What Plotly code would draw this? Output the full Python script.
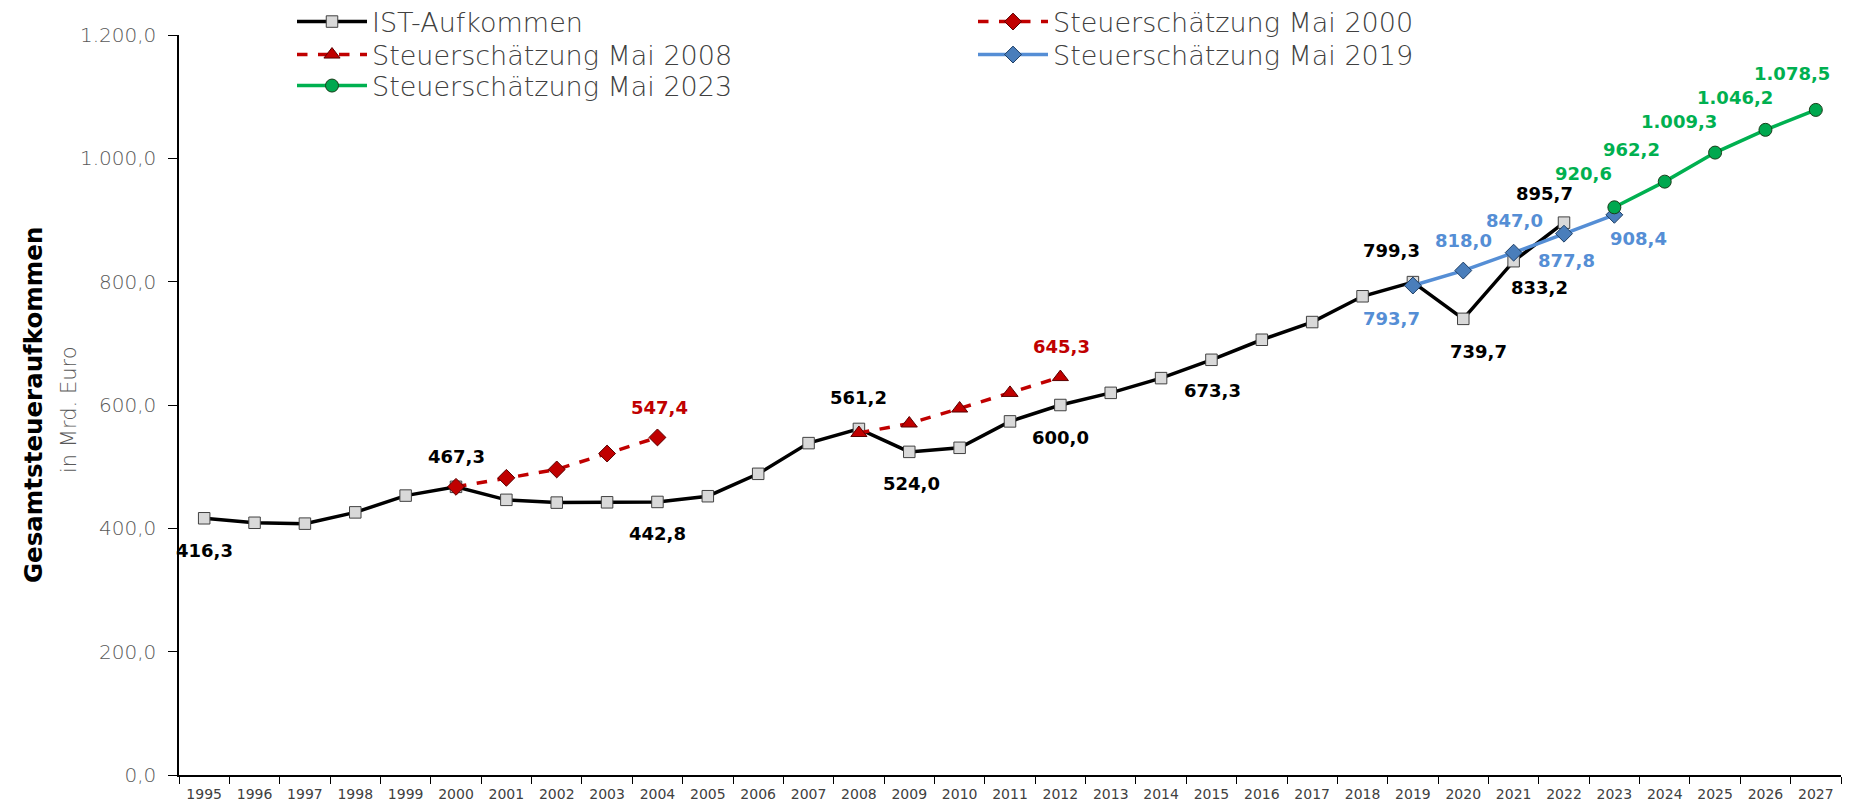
import plotly.graph_objects as go

# Kategorien (Jahre)
years = [str(y) for y in range(1995, 2028)]

# IST-Aufkommen 1995-2022
ist_years = [str(y) for y in range(1995, 2023)]
ist_values = [416.3, 409.0, 407.6, 425.9, 453.1, 467.3, 446.2, 441.7, 442.2, 442.8,
              452.1, 488.4, 538.2, 561.2, 524.0, 530.6, 573.4, 600.0, 619.7, 643.6,
              673.3, 705.8, 734.5, 776.3, 799.3, 739.7, 833.2, 895.7]

# Steuerschaetzungen
se2000_years = ["2000", "2001", "2002", "2003", "2004"]
se2000_values = [467.3, 481.9, 495.5, 521.3, 547.4]

se2008_years = ["2008", "2009", "2010", "2011", "2012"]
se2008_values = [554.6, 570.0, 594.3, 619.6, 645.3]

se2019_years = ["2019", "2020", "2021", "2022", "2023"]
se2019_values = [793.7, 818.0, 847.0, 877.8, 908.4]

se2023_years = ["2023", "2024", "2025", "2026", "2027"]
se2023_values = [920.6, 962.2, 1009.3, 1046.2, 1078.5]

FONT = "DejaVu Sans"
BLACK = "#000000"
RED = "#c00000"
BLUE = "#558ed5"
GREEN = "#00b050"
GREY = "#595959"

# Seite hat 8px Body-Rand -> Figur etwas kleiner, Pixelangaben in Bildschirmkoordinaten
OFF = 8
W, H = 1870 - OFF, 809 - OFF
ML, MR, MT, MB = 171, 29, 27, 34
pw, ph = W - ML - MR, H - MT - MB


def de(v):
    s = f"{v:,.1f}"
    return s.replace(",", "X").replace(".", ",").replace("X", ".")


def px_x(x):
    return (x - OFF - ML) / pw


def px_y(y):
    return (H - MB - (y - OFF)) / ph


fig = go.Figure()

fig.add_trace(go.Scatter(
    x=ist_years, y=ist_values, name="IST-Aufkommen", mode="lines+markers", legend="legend",
    line=dict(color=BLACK, width=3.5),
    marker=dict(symbol="square", size=11.5, color="#d9d9d9", line=dict(color="#404040", width=1))
))
fig.add_trace(go.Scatter(
    x=se2000_years, y=se2000_values, name="Steuerschätzung Mai 2000", mode="lines+markers", legend="legend2",
    line=dict(color=RED, width=3.5, dash="dash"),
    marker=dict(symbol="diamond", size=13, color=RED, line=dict(color="#5a0000", width=1))
))
fig.add_trace(go.Scatter(
    x=se2008_years, y=se2008_values, name="Steuerschätzung Mai 2008", mode="lines+markers", legend="legend3",
    line=dict(color=RED, width=3.5, dash="dash"),
    marker=dict(symbol="triangle-up", size=14, color=RED, line=dict(color="#5a0000", width=1))
))
fig.add_trace(go.Scatter(
    x=se2019_years, y=se2019_values, name="Steuerschätzung Mai 2019", mode="lines+markers", legend="legend4",
    line=dict(color=BLUE, width=3.5),
    marker=dict(symbol="diamond", size=13, color="#4a7ebb", line=dict(color="#1f3f66", width=1))
))
fig.add_trace(go.Scatter(
    x=se2023_years, y=se2023_values, name="Steuerschätzung Mai 2023", mode="lines+markers", legend="legend5",
    line=dict(color=GREEN, width=3.5),
    marker=dict(symbol="circle", size=13, color="#00a84f", line=dict(color="#1a3d1a", width=1))
))

# Datenbeschriftungen je Reihe: Jahr -> Versatz (x, y) in Pixel
ist_lookup = dict(zip(ist_years, ist_values))
label_offsets = [
    (ist_lookup, BLACK, {"1995": (0, -32), "2000": (0, 30), "2004": (0, -32), "2008": (0, 31),
                         "2009": (2, -32), "2012": (0, -32), "2015": (1, -31), "2019": (-21, 32),
                         "2020": (15, -33), "2021": (26, -26), "2022": (-20, 29)}),
    (dict(zip(se2000_years, se2000_values)), RED, {"2004": (2, 30)}),
    (dict(zip(se2008_years, se2008_values)), RED, {"2012": (1, 31)}),
    (dict(zip(se2019_years, se2019_values)), BLUE, {"2019": (-21, -33), "2020": (0, 30), "2021": (1, 32),
                                                     "2022": (2, -27), "2023": (24, -24)}),
    (dict(zip(se2023_years, se2023_values)), GREEN, {"2023": (-31, 34), "2024": (-33, 32), "2025": (-36, 31),
                                                      "2026": (-30, 32), "2027": (-24, 36)}),
]

annotations = []
for lookup, color, offs in label_offsets:
    for yr, (dx, dy) in offs.items():
        annotations.append(dict(
            x=years.index(yr), y=lookup[yr], xref="x", yref="y", text=de(lookup[yr]), showarrow=False,
            xshift=dx, yshift=dy, font=dict(family=FONT, size=18, color=color, weight="bold")
        ))

# Achsentitel
annotations.append(dict(
    x=px_x(33), y=px_y(405), xref="paper", yref="paper", xanchor="center", yanchor="middle",
    text="Gesamtsteueraufkommen", showarrow=False,
    textangle=-90, font=dict(family=FONT, size=24.5, color=BLACK, weight="bold")
))
annotations.append(dict(
    x=px_x(69), y=px_y(410), xref="paper", yref="paper", xanchor="center", yanchor="middle",
    text="in Mrd. Euro", showarrow=False,
    textangle=-90, font=dict(family=FONT, size=21, color=GREY, weight=200)
))

legend_style = dict(
    xanchor="left", yanchor="middle", itemwidth=70, bgcolor="rgba(0,0,0,0)",
    font=dict(family=FONT, size=27, color="#404040", weight=200)
)

fig.update_layout(
    width=W, height=H,
    margin=dict(l=ML, r=MR, t=MT, b=MB, autoexpand=False),
    paper_bgcolor="white", plot_bgcolor="white",
    separators=",.",
    font=dict(family=FONT, color="#404040"),
    showlegend=True,
    legend=dict(x=px_x(292), y=px_y(22), **legend_style),
    legend2=dict(x=px_x(973), y=px_y(22), **legend_style),
    legend3=dict(x=px_x(292), y=px_y(55), **legend_style),
    legend4=dict(x=px_x(973), y=px_y(55), **legend_style),
    legend5=dict(x=px_x(292), y=px_y(86), **legend_style),
    annotations=annotations,
    xaxis=dict(
        type="category", categoryorder="array", categoryarray=years,
        range=[-0.5, len(years) - 0.5],
        showline=True, linecolor=BLACK, linewidth=1.5,
        ticks="outside", tickson="boundaries", ticklen=7, tickcolor=BLACK, tickwidth=1.2,
        ticklabelstandoff=5,
        tickfont=dict(family=FONT, size=14, color="#404040"),
        showgrid=False, zeroline=False
    ),
    yaxis=dict(
        range=[0, 1200], dtick=200, tickformat=",.1f",
        showline=True, linecolor=BLACK, linewidth=1.5,
        ticks="outside", ticklen=9, tickcolor=BLACK, tickwidth=1.2, ticklabelstandoff=8,
        tickfont=dict(family=FONT, size=20, color=GREY, weight=200),
        showgrid=False, zeroline=False
    ),
)

fig.write_html("out.html")
